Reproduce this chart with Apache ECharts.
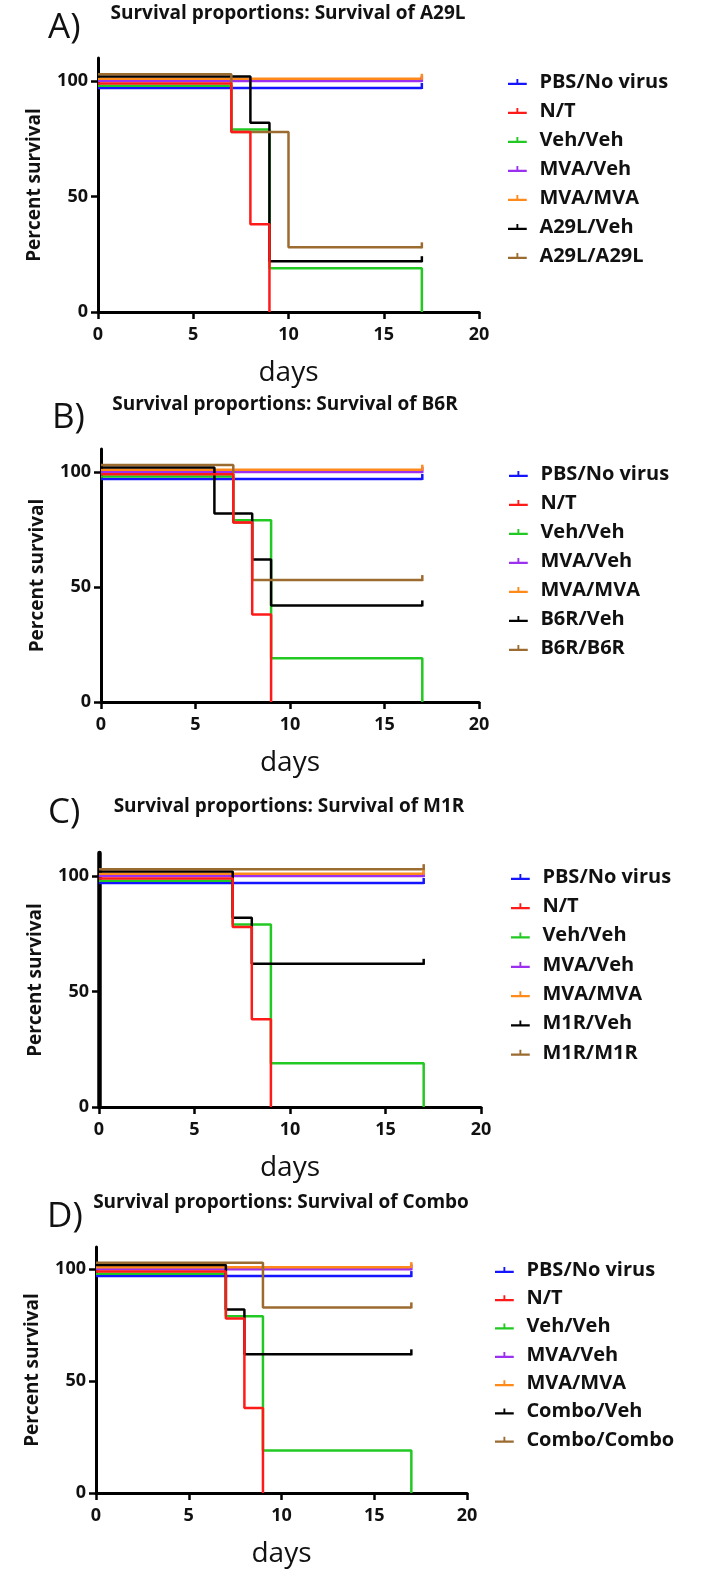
<!DOCTYPE html>
<html>
<head>
<meta charset="utf-8">
<script src="https://cdn.jsdelivr.net/npm/echarts@6/dist/echarts.min.js"></script>
<style>html,body{margin:0;padding:0;background:#fff;}#c{width:716px;height:1573px;}</style>
</head>
<body>
<div id="c"></div>
<script>
// ---- data ----
const panelLetters = ['A)', 'B)', 'C)', 'D)'];
const panelTitles = ['Survival proportions: Survival of A29L', 'Survival proportions: Survival of B6R',
  'Survival proportions: Survival of M1R', 'Survival proportions: Survival of Combo'];
const xTicks = [0, 5, 10, 15, 20];
const yTicks = [0, 50, 100];

const commonNames = ['PBS/No virus', 'N/T', 'Veh/Veh', 'MVA/Veh', 'MVA/MVA'];
const vaccineNames = [['A29L/Veh', 'A29L/A29L'], ['B6R/Veh', 'B6R/B6R'], ['M1R/Veh', 'M1R/M1R'], ['Combo/Veh', 'Combo/Combo']];

// common groups (same in all four panels)
const pbsDays = [0, 17];        const pbsSurv = [97, 97];
const ntDays = [0, 7, 8, 9];    const ntSurv = [99, 78, 38, 0];
const vehDays = [0, 7, 9, 17];  const vehSurv = [98, 79, 19, 0];
const mvaVehDays = [0, 17];     const mvaVehSurv = [100, 100];
const mvaMvaDays = [0, 17];     const mvaMvaSurv = [101, 101];

// panel A
const a29lVehDays = [0, 8, 9, 17];   const a29lVehSurv = [102, 82, 22, 22];
const a29lA29lDays = [0, 7, 10, 17]; const a29lA29lSurv = [103, 78, 28, 28];
// panel B
const b6rVehDays = [0, 6, 8, 9, 17]; const b6rVehSurv = [102, 82, 62, 42, 42];
const b6rB6rDays = [0, 7, 8, 17];    const b6rB6rSurv = [103, 78, 53, 53];
// panel C
const m1rVehDays = [0, 7, 8, 17];    const m1rVehSurv = [102, 82, 62, 62];
const m1rM1rDays = [0, 17];          const m1rM1rSurv = [103, 103];
// panel D
const comboVehDays = [0, 7, 8, 17];    const comboVehSurv = [102, 82, 62, 62];
const comboComboDays = [0, 9, 17];     const comboComboSurv = [103, 83, 83];

const vaccineData = [
  [[a29lVehDays, a29lVehSurv], [a29lA29lDays, a29lA29lSurv]],
  [[b6rVehDays, b6rVehSurv], [b6rB6rDays, b6rB6rSurv]],
  [[m1rVehDays, m1rVehSurv], [m1rM1rDays, m1rM1rSurv]],
  [[comboVehDays, comboVehSurv], [comboComboDays, comboComboSurv]]
];
const commonData = [[pbsDays, pbsSurv], [ntDays, ntSurv], [vehDays, vehSurv], [mvaVehDays, mvaVehSurv], [mvaMvaDays, mvaMvaSurv]];

// ---- styling / layout ----
const colors = ['#1414FF', '#FF1A1A', '#22C922', '#9B30F0', '#FF8A1A', '#000000', '#9C6B30'];
const grids = [
  {left: 98, top: 58, width: 381, height: 254},
  {left: 101, top: 449, width: 378, height: 253},
  {left: 99, top: 853, width: 382, height: 254},
  {left: 96, top: 1247, width: 371, height: 246}
];
const legendPos = [
  {left: 503, top: 66, gap: 7},
  {left: 504, top: 458, gap: 7},
  {left: 506, top: 861, gap: 7.3},
  {left: 490, top: 1254, gap: 6.3}
];
const titlePos = [[288, 14], [285, 405], [289, 807], [281, 1203]];
const letterPos = [[48, 28], [52, 418], [48, 813], [47, 1217]];
const yAxisWidth = [3, 3, 4.5, 3];
const FONT = '"Open Sans", "DejaVu Sans", sans-serif';

const chart = echarts.init(document.getElementById('c'), null, {renderer: 'canvas'});

const option = {
  animation: false,
  backgroundColor: '#fff',
  grid: grids.map(g => Object.assign({containLabel: false}, g)),
  xAxis: grids.map((g, i) => ({
    type: 'value', gridIndex: i, min: 0, max: 20, interval: 5,
    name: 'days', nameLocation: 'middle', nameGap: 47,
    nameTextStyle: {fontFamily: FONT, fontSize: 28, color: '#111'},
    axisLine: {onZero: false, lineStyle: {color: '#000', width: 3}},
    axisTick: {length: 7, lineStyle: {color: '#000', width: 2.5}},
    axisLabel: {margin: 14, fontFamily: FONT, fontWeight: 'bold', fontSize: 18, color: '#111'},
    splitLine: {show: false}
  })),
  yAxis: grids.map((g, i) => ({
    type: 'value', gridIndex: i, min: 0, max: 110,
    name: 'Percent survival', nameLocation: 'middle', nameGap: 54, nameRotate: 90,
    nameTextStyle: {fontFamily: FONT, fontWeight: 'bold', fontSize: 19, color: '#111'},
    axisLine: {show: true, onZero: false, lineStyle: {color: '#000', width: yAxisWidth[i]}},
    axisTick: {show: true, length: 7, customValues: yTicks, lineStyle: {color: '#000', width: 2.5}},
    axisLabel: {margin: 10, customValues: yTicks, fontFamily: FONT, fontWeight: 'bold', fontSize: 18, color: '#111'},
    splitLine: {show: false}
  })),
  legend: legendPos.map((p, i) => ({
    orient: 'vertical', left: p.left, top: p.top, itemGap: p.gap,
    itemWidth: 20, itemHeight: 6,
    icon: 'path://M0,4 L20,4 L20,6.4 L0,6.4 Z M9,0 L11,0 L11,6 L9,6 Z',
    data: commonNames.concat(vaccineNames[i]).map(n => ({name: n})),
    textStyle: {fontFamily: FONT, fontWeight: 'bold', fontSize: 20, color: '#111', lineHeight: 22, padding: [0, 0, 0, 7]},
    selectedMode: false
  })),
  graphic: [],
  series: []
};

// build graphics: titles and panel letters
for (let i = 0; i < 4; i++) {
  option.graphic.push({
    type: 'text', x: titlePos[i][0], y: titlePos[i][1],
    style: {text: panelTitles[i], font: 'bold 19px ' + FONT, fill: '#111',
      align: 'center', verticalAlign: 'middle', textAlign: 'center', textVerticalAlign: 'middle'}
  });
  option.graphic.push({
    type: 'text', x: letterPos[i][0], y: letterPos[i][1],
    style: {text: panelLetters[i], font: '35px ' + FONT, fill: '#111',
      align: 'left', verticalAlign: 'middle', textAlign: 'left', textVerticalAlign: 'middle'}
  });
}

function makeSeries(name, days, surv, color, gridIdx) {
  const last = days.length - 1;
  const data = days.map((d, k) => {
    if (k === last && surv[k] > 0) {
      return {value: [d, surv[k]], symbol: 'rect', symbolSize: [2.5, 6], symbolOffset: [0, -2],
        itemStyle: {color: color}};
    }
    return {value: [d, surv[k]]};
  });
  return {
    name: name, type: 'line', step: 'end', xAxisIndex: gridIdx, yAxisIndex: gridIdx,
    data: data, symbol: 'none', showSymbol: true, clip: false,
    lineStyle: {color: color, width: 2.5}, itemStyle: {color: color},
    emphasis: {disabled: true}, silent: true
  };
}

// draw order: red (N/T) last so it lies on top, as in the reference
const drawOrder = [0, 2, 3, 4, 5, 6, 1];
for (let i = 0; i < 4; i++) {
  const names = commonNames.concat(vaccineNames[i]);
  const datasets = commonData.concat(vaccineData[i]);
  drawOrder.forEach(j => {
    option.series.push(makeSeries(names[j], datasets[j][0], datasets[j][1], colors[j], i));
  });
}

chart.setOption(option);
</script>
</body>
</html>
